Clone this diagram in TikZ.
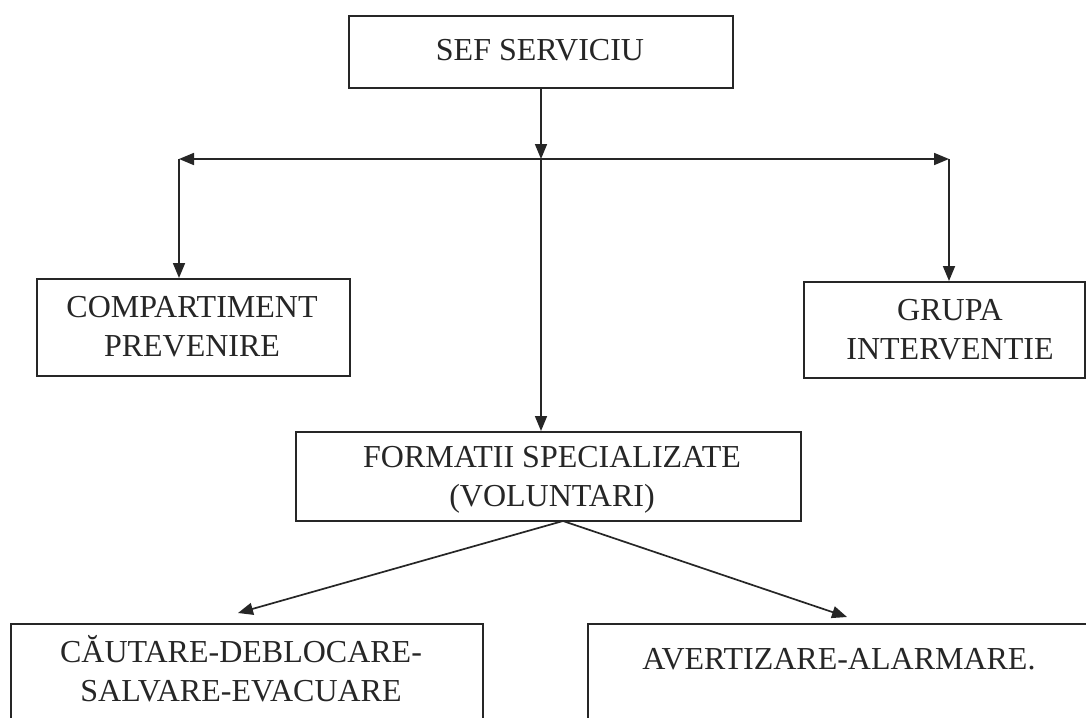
\documentclass[tikz,border=0pt]{standalone}
\usepackage{fontspec}
\setmainfont{Liberation Serif}
\usetikzlibrary{arrows.meta}
\begin{document}
\begin{tikzpicture}[x=1pt,y=-1pt,
  box/.style={draw=black!85, line width=1.8pt, inner sep=0pt},
  lbl/.style={font=\fontsize{32}{39}\selectfont, align=center, text=black!85, inner sep=0pt},
  conn/.style={draw=black!85, line width=1.7pt},
  arr/.style={conn, -{Triangle[length=15pt,width=12pt]}},
  darr/.style={conn, {Triangle[length=15pt,width=12pt]}-{Triangle[length=15pt,width=12pt]}}]
\clip (0,0) rectangle (1086,717);
\fill[white] (0,0) rectangle (1086,717);
% boxes
\node[box, minimum width=384pt, minimum height=72pt, anchor=north west] (sef) at (348,15) {};
\node[lbl] (sefT) at (540,50) {SEF SERVICIU};
\node[box, minimum width=313pt, minimum height=97pt, anchor=north west] (comp) at (36,278) {};
\node[lbl] (compT) at (192,327) {COMPARTIMENT\\PREVENIRE};
\node[box, minimum width=281pt, minimum height=96pt, anchor=north west] (grupa) at (803,281) {};
\node[lbl] (grupaT) at (950,330) {GRUPA\\INTERVENTIE};
\node[box, minimum width=505pt, minimum height=89pt, anchor=north west] (form) at (295,431) {};
\node[lbl] (formT) at (552,480) {FORMATII SPECIALIZATE\\(VOLUNTARI)};
\node[box, minimum width=472pt, minimum height=120pt, anchor=north west] (caut) at (10,623) {};
\node[lbl] (cautT) at (241,669) {CĂUTARE-DEBLOCARE-\\SALVARE-EVACUARE};
\node[box, minimum width=520pt, minimum height=120pt, anchor=north west] (avert) at (587,623) {};
\node[lbl] (avertT) at (839,659) {AVERTIZARE-ALARMARE.};
% junction points
\coordinate (j) at (541,159);
\coordinate (jl) at (179,159);
\coordinate (jr) at (949,159);
\coordinate (fs) at (563,521);
\coordinate (tl) at (238,613);
\coordinate (tr) at (847,617);
% connectors
\draw[arr] (sef.south -| j) -- (j);
\draw[darr] (jl) -- (jr);
\draw[arr] (jl) -- (jl |- comp.north);
\draw[arr] (jr) -- (jr |- grupa.north);
\draw[arr] (j) -- (j |- form.north);
\draw[arr] (fs) -- (tl);
\draw[arr] (fs) -- (tr);
\end{tikzpicture}
\end{document}
